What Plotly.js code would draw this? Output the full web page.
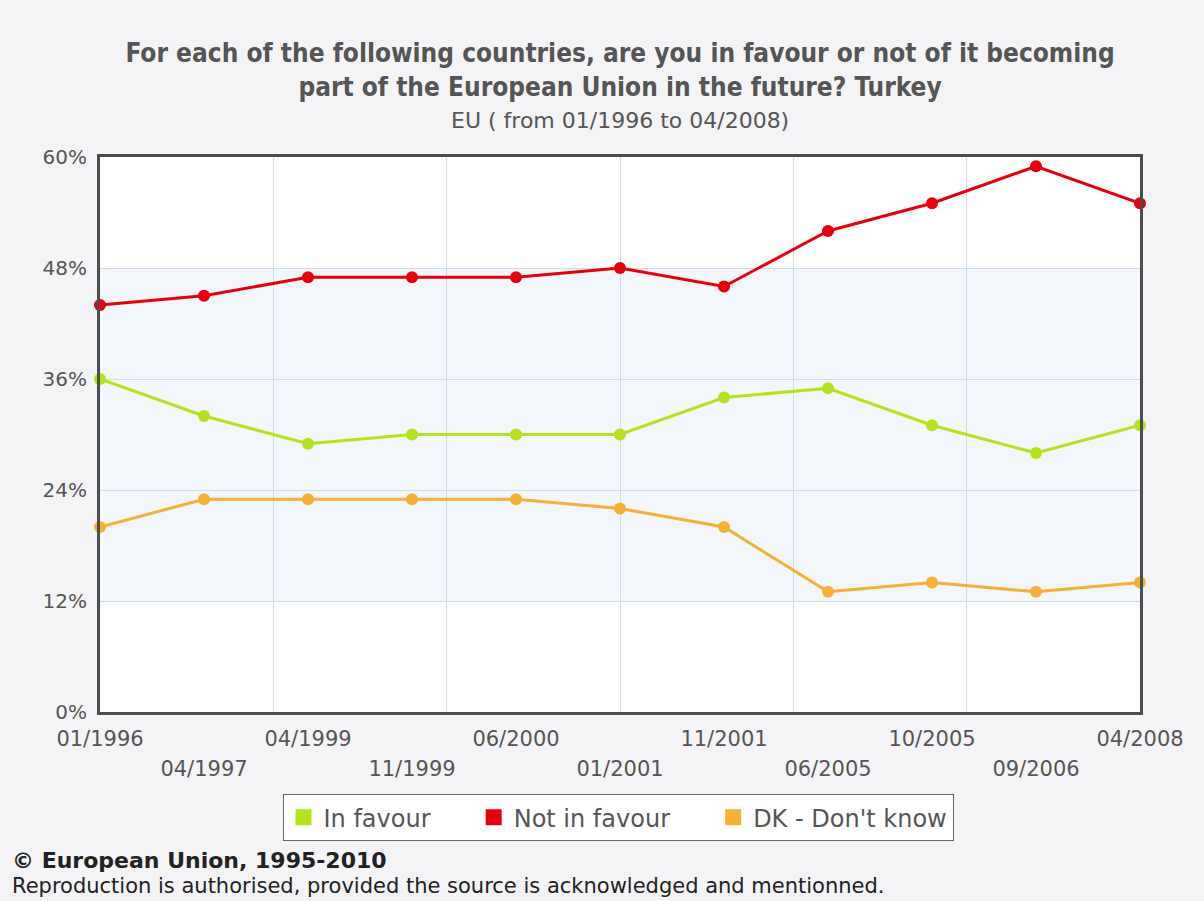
<!DOCTYPE html>
<html>
<head>
<meta charset="utf-8">
<script src="https://cdn.plot.ly/plotly-3.0.1.min.js"></script>
<style>
html,body{margin:0;padding:0;background:#f4f4f6;}
#chart{width:1204px;height:901px;}
</style>
</head>
<body>
<div id="chart"></div>
<script>
const categories = ['01/1996','04/1997','04/1999','11/1999','06/2000','01/2001','11/2001','06/2005','10/2005','09/2006','04/2008'];
const inFavour    = [36,32,29,30,30,30,34,35,31,28,31];
const notInFavour = [44,45,47,47,47,48,46,52,55,59,55];
const dontKnow    = [20,23,23,23,23,22,20,13,14,13,14];
const seriesNames = ['In favour','Not in favour',"DK - Don't know"];
const seriesColors = ['#b5e31b','#e5000c','#f5b038'];
const yTicks = [0,12,24,36,48,60];

const idx = categories.map((c,i)=>i);
const evenIdx = idx.filter(i=>i%2===0);
const oddIdx = idx.filter(i=>i%2===1);
const lastIdx = categories.length-1;

const seriesData = [inFavour, notInFavour, dontKnow];
const traces = [];
// helper traces so the overlay axes (grid + second label row) get drawn
traces.push({type:'scatter', mode:'markers', x:[null], y:[null], xaxis:'x2', showlegend:false, hoverinfo:'skip'});
traces.push({type:'scatter', mode:'markers', x:[null], y:[null], xaxis:'x3', showlegend:false, hoverinfo:'skip'});
seriesData.forEach((vals,k)=>{
  traces.push({
    type:'scatter', mode:'lines+markers', x:idx, y:vals, name:seriesNames[k],
    line:{color:seriesColors[k], width:3}, marker:{color:seriesColors[k], size:12},
    cliponaxis:false, showlegend:false, hoverinfo:'y'
  });
});
const pad = '\u00a0\u00a0\u00a0\u00a0\u00a0';
seriesData.forEach((vals,k)=>{
  traces.push({
    type:'scatter', mode:'markers', x:[null], y:[null],
    name: seriesNames[k] + (k < seriesNames.length-1 ? pad : ''),
    marker:{color:seriesColors[k], size:17, symbol:'square'}, showlegend:true
  });
});

const tickFont = {family:'DejaVu Sans', size:21, color:'#555555'};
const ytickFont = {family:'DejaVu Sans', size:20, color:'#555555'};
const condensed = 'DejaVu Sans Condensed, DejaVu Sans';

const layout = {
  width:1204, height:901,
  paper_bgcolor:'#f4f4f6', plot_bgcolor:'#ffffff',
  margin:{l:100, r:64, t:157, b:189},
  title:{
    text:'<b>For each of the following countries, are you in favour or not of it becoming<br>part of the European Union in the future? Turkey</b>',
    font:{family:condensed, size:26, color:'#555555'},
    x:0.515, xanchor:'center', y:1-62/901, yanchor:'top', yref:'container'
  },
  xaxis:{
    type:'linear', range:[0,lastIdx], tickmode:'array', tickvals:evenIdx,
    ticktext:evenIdx.map(i=>categories[i]), showgrid:false, zeroline:false,
    showline:true, mirror:true, linecolor:'#4d4d4d', linewidth:3, ticks:'',
    tickfont:tickFont, ticklabelstandoff:6
  },
  xaxis2:{
    overlaying:'x', anchor:'y', type:'linear', range:[0,lastIdx], tick0:0, dtick:lastIdx/6,
    showgrid:true, gridcolor:'#cadeec', gridwidth:1, showticklabels:false, ticks:'',
    zeroline:false, showline:false
  },
  xaxis3:{
    overlaying:'x', anchor:'y', side:'bottom', type:'linear', range:[0,lastIdx], tickmode:'array',
    tickvals:oddIdx, ticktext:oddIdx.map(i=>categories[i]), showgrid:false, zeroline:false,
    showline:false, ticks:'', tickfont:tickFont, ticklabelstandoff:42
  },
  yaxis:{
    range:[0,60], tickmode:'array', tickvals:yTicks, ticktext:yTicks.map(v=>v+'%'),
    showgrid:true, gridcolor:'#cadeec', zeroline:false, showline:true, mirror:true,
    linecolor:'#4d4d4d', linewidth:3, ticks:'', tickfont:ytickFont, ticklabelstandoff:6
  },
  shapes:[{
    type:'rect', xref:'paper', yref:'y', x0:0, x1:1, y0:yTicks[1], y1:yTicks[4],
    fillcolor:'#f3f6fa', line:{width:0}, layer:'below'
  }],
  legend:{
    orientation:'h', x:(618-100)/1040, xanchor:'center', y:-0.148, yanchor:'top',
    bgcolor:'#ffffff', bordercolor:'#666666', borderwidth:1,
    font:{family:'DejaVu Sans', size:24, color:'#555555'}, itemwidth:30, traceorder:'normal'
  },
  annotations:[
    {text:'EU ( from 01/1996 to 04/2008)', xref:'paper', yref:'paper', x:(620-100)/1040, y:(712-120)/555,
     xanchor:'center', yanchor:'middle', showarrow:false, font:{family:'DejaVu Sans', size:22, color:'#555555'}},
    {text:'<b>© European Union, 1995-2010</b>', xref:'paper', yref:'paper', x:(10-100)/1040, y:(712-860)/555,
     xanchor:'left', yanchor:'middle', showarrow:false, font:{family:'DejaVu Sans', size:22, color:'#222222'}},
    {text:'Reproduction is authorised, provided the source is acknowledged and mentionned.', xref:'paper', yref:'paper', x:(10-100)/1040, y:(712-886)/555,
     xanchor:'left', yanchor:'middle', showarrow:false, font:{family:'DejaVu Sans', size:21, color:'#222222'}}
  ]
};

Plotly.newPlot('chart', traces, layout, {displayModeBar:false, responsive:false});
</script>
</body>
</html>
